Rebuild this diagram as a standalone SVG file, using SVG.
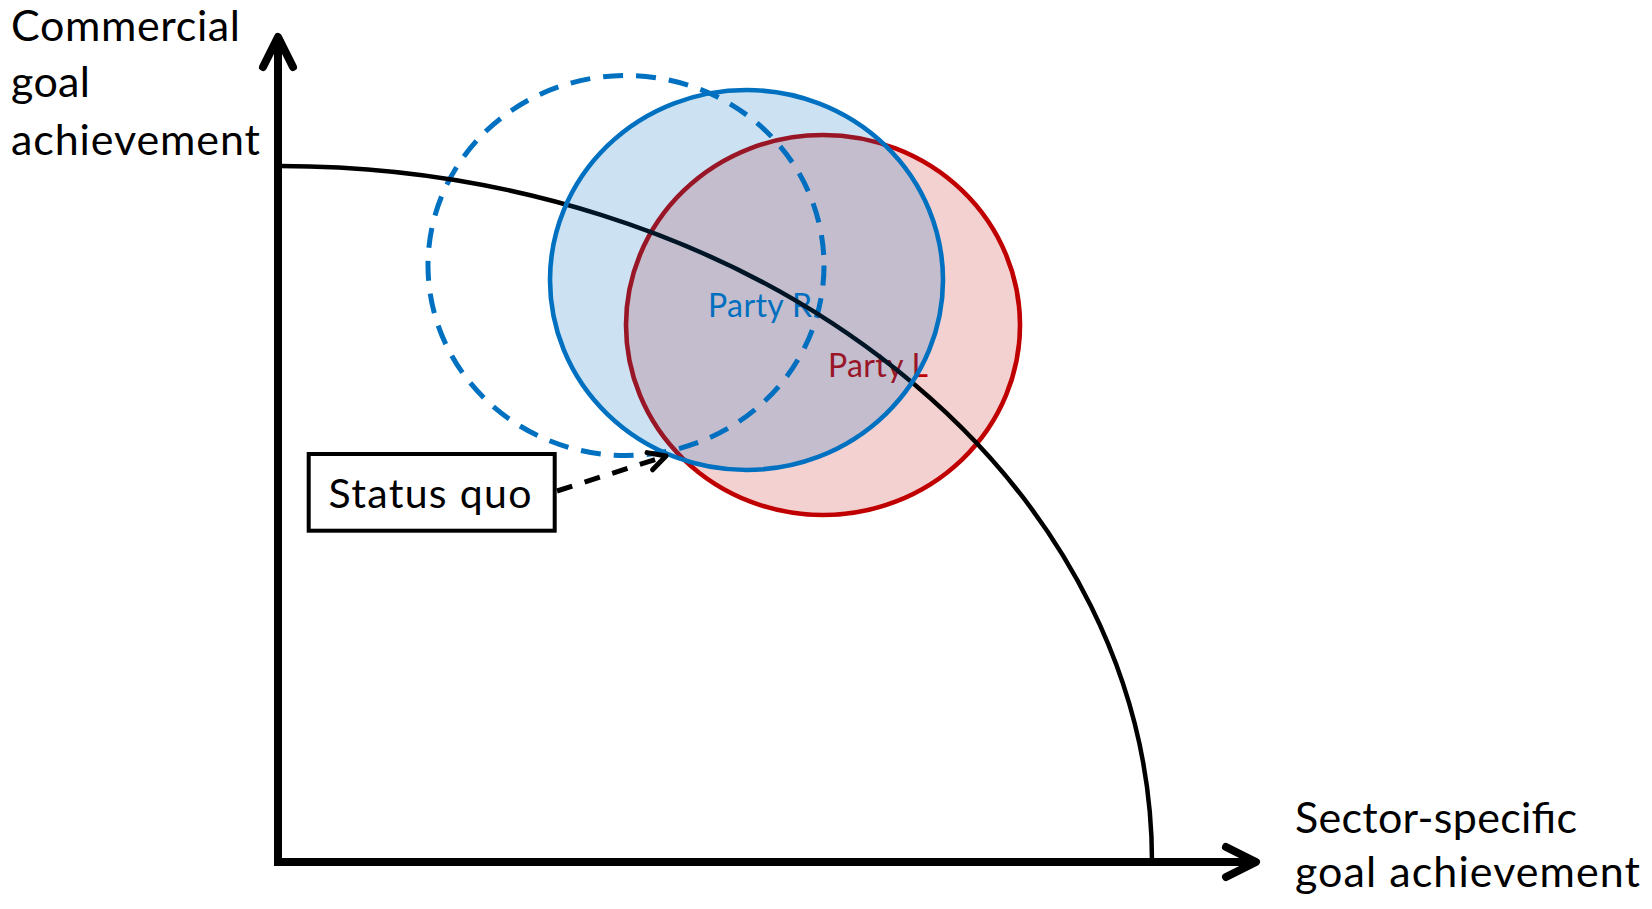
<svg xmlns="http://www.w3.org/2000/svg" width="1652" height="909" viewBox="0 0 1652 909">
<style>
.lbl{font-family:Lato,"Liberation Sans",sans-serif;fill:#000}
.big{font-size:43px}
.axis{stroke:#000;stroke-width:8;fill:none}
.ell{stroke-width:4.6}
</style>
<defs>
<marker id="bigArrow" markerUnits="userSpaceOnUse" markerWidth="60" markerHeight="60" viewBox="-40 -30 60 60" refX="0" refY="0" orient="auto" overflow="visible">
<path d="M -30 -15 L 0 0 L -30 15" fill="none" stroke="#000" stroke-width="8" stroke-linecap="round" stroke-linejoin="round"/>
</marker>
<marker id="smallArrow" markerUnits="userSpaceOnUse" markerWidth="40" markerHeight="40" viewBox="-25 -20 40 40" refX="0" refY="0" orient="auto" overflow="visible">
<path d="M -17 -9 L 0 0 L -17 9" fill="none" stroke="#000" stroke-width="5" stroke-linecap="round" stroke-linejoin="round" stroke-dasharray="none"/>
</marker>
</defs>
<rect width="1652" height="909" fill="#fff"/>

<g id="party-l">
<ellipse cx="823" cy="325" rx="197" ry="190" fill="#C00000" fill-opacity="0.18" stroke="#C00000" class="ell"/>
<text class="lbl" x="828" y="377" font-size="32" style="fill:#C00000" textLength="100">Party L</text>
</g>

<g id="party-r-label">
<text class="lbl" x="708" y="316.5" font-size="32" style="fill:#0070C0" textLength="104">Party R</text>
</g>

<g id="status-quo-region">
<ellipse cx="626" cy="265.5" rx="198" ry="190" fill="none" stroke="#0070C0" stroke-width="5" stroke-dasharray="20 13"/>
</g>

<g id="frontier">
<path d="M 280 166 A 872 696 0 0 1 1152 862" fill="none" stroke="#000" stroke-width="4.5"/>
</g>

<g id="party-r">
<ellipse cx="746.5" cy="280" rx="196.5" ry="190" fill="#0070C0" fill-opacity="0.2" stroke="#0070C0" class="ell"/>
</g>

<g id="axes">
<line x1="278" y1="862" x2="278" y2="37" class="axis" marker-end="url(#bigArrow)"/>
<line x1="274" y1="862" x2="1256" y2="862" class="axis" marker-end="url(#bigArrow)"/>
</g>

<g id="y-label">
<text class="lbl big" x="11" y="40.5" textLength="229">Commercial</text>
<text class="lbl big" x="11" y="97" textLength="79">goal</text>
<text class="lbl big" x="11" y="154.5" textLength="249">achievement</text>
</g>

<g id="x-label">
<text class="lbl big" x="1295" y="833" textLength="282">Sector-specific</text>
<text class="lbl big" x="1295" y="887" textLength="345">goal achievement</text>
</g>

<g id="status-quo">
<rect x="308.7" y="454" width="246" height="76.7" fill="#fff" stroke="#000" stroke-width="4"/>
<text class="lbl" x="328.5" y="508" font-size="41" textLength="203">Status quo</text>
</g>

<g id="connectors">
<line x1="557" y1="491" x2="666" y2="456" stroke="#000" stroke-width="5" stroke-dasharray="16 13" marker-end="url(#smallArrow)"/>
</g>
</svg>
